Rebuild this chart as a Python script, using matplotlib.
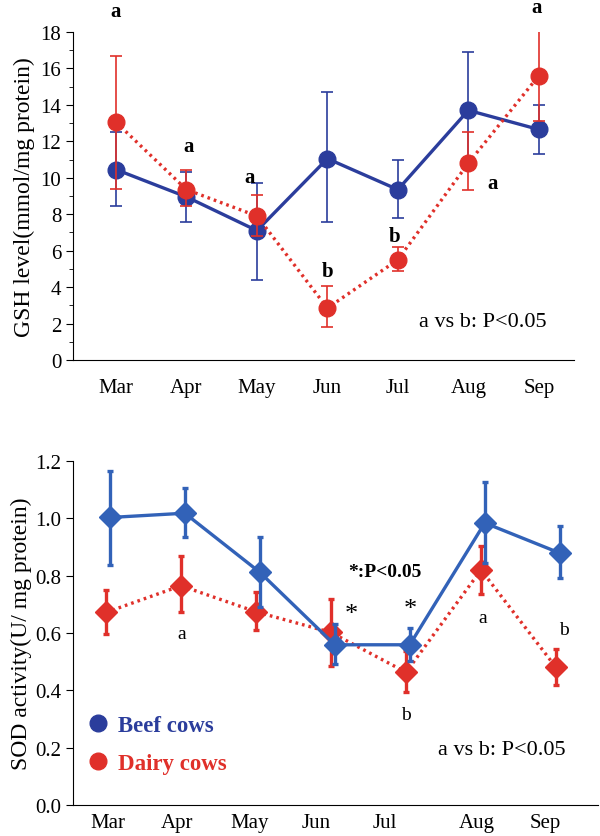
import numpy as np
import matplotlib
matplotlib.use("Agg")
import matplotlib.pyplot as plt
from matplotlib.ticker import MultipleLocator
from matplotlib.lines import Line2D

plt.rcParams['font.family'] = ['Liberation Serif', 'DejaVu Serif']

months = ["Mar", "Apr", "May", "Jun", "Jul", "Aug", "Sep"]

# GSH (top panel)
gsh_beef = [10.45, 8.95, 7.1, 11.05, 9.35, 13.7, 12.65]
gsh_beef_lo = [8.45, 7.6, 4.4, 7.55, 7.8, 10.5, 11.3]
gsh_beef_hi = [12.5, 10.3, 9.7, 14.7, 11.0, 16.9, 14.0]
gsh_dairy = [13.05, 9.35, 7.9, 2.85, 5.5, 10.8, 15.6]
gsh_dairy_lo = [9.4, 8.45, 6.8, 1.8, 4.9, 9.35, 13.1]
gsh_dairy_hi = [16.7, 10.4, 9.05, 4.05, 6.2, 12.5, 18.3]
gsh_letters = ["a", "a", "a", "b", "b", "a", "a"]
gsh_letter_x = [0.0, 0.03, -0.1, 0.0, -0.05, 0.35, -0.03]
gsh_letter_y = [19.15, 11.75, 10.05, 4.9, 6.8, 9.7, 19.35]

# SOD (bottom panel)
sod_beef = [1.003, 1.018, 0.812, 0.559, 0.559, 0.984, 0.879]
sod_beef_lo = [0.838, 0.936, 0.69, 0.492, 0.503, 0.846, 0.791]
sod_beef_hi = [1.166, 1.105, 0.934, 0.631, 0.617, 1.126, 0.972]
sod_dairy = [0.672, 0.765, 0.674, 0.602, 0.463, 0.82, 0.48]
sod_dairy_lo = [0.596, 0.672, 0.611, 0.484, 0.393, 0.736, 0.419]
sod_dairy_hi = [0.75, 0.87, 0.742, 0.719, 0.538, 0.905, 0.544]
sod_tick_x = [-0.03, 0.9, 1.87, 2.75, 3.67, 4.9, 5.8]

BLUE_TOP = "#2b3d9c"
BLUE_BOT = "#3262b8"
RED = "#e0302a"

TICK_FS = 15
LABEL_FS = 17

x = np.arange(len(months))

fig = plt.figure(figsize=(6.0, 8.37), dpi=100)

# ---------- top panel ----------
ax1 = fig.add_axes([0.1217, 0.5687, 0.835, 0.3919])
ax1.errorbar(x, gsh_beef,
             yerr=[np.subtract(gsh_beef, gsh_beef_lo), np.subtract(gsh_beef_hi, gsh_beef)],
             color=BLUE_TOP, lw=2.4, marker='o', ms=12, elinewidth=1.2, capsize=4,
             capthick=1.2, zorder=3)
ax1.errorbar(x, gsh_dairy,
             yerr=[np.subtract(gsh_dairy, gsh_dairy_lo), np.subtract(gsh_dairy_hi, gsh_dairy)],
             color=RED, lw=2.4, ls=(0, (0.8, 1.2)), marker='o', ms=12, elinewidth=1.2,
             capsize=4, capthick=1.2, zorder=4)
for i, t in enumerate(gsh_letters):
    ax1.text(x[i] + gsh_letter_x[i], gsh_letter_y[i], t, ha='center', va='center',
             fontsize=15, fontweight='bold', clip_on=False)
ax1.text(5.2, 2.1, "a vs b: P<0.05", ha='center', va='center', fontsize=16)
ax1.set_xlim(-0.61, 6.5)
ax1.set_ylim(0, 18)
ax1.yaxis.set_major_locator(MultipleLocator(2))
ax1.yaxis.set_minor_locator(MultipleLocator(1))
ax1.set_xticks(x)
ax1.set_xticklabels(months)
ax1.tick_params(axis='x', length=0, pad=13, labelsize=TICK_FS)
ax1.tick_params(axis='y', which='major', length=5, labelsize=TICK_FS)
ax1.tick_params(axis='y', which='minor', length=3)
ax1.set_ylabel("GSH level(mmol/mg protein)", fontsize=LABEL_FS, labelpad=4)
for s in ['top', 'right']:
    ax1.spines[s].set_visible(False)

# ---------- bottom panel ----------
ax2 = fig.add_axes([0.1217, 0.037, 0.875, 0.411])
ax2.errorbar(x, sod_beef,
             yerr=[np.subtract(sod_beef, sod_beef_lo), np.subtract(sod_beef_hi, sod_beef)],
             color=BLUE_BOT, lw=2.4, marker='D', ms=11, elinewidth=2.4, capsize=2.5,
             capthick=2.4, zorder=3)
ax2.errorbar(x - 0.05, sod_dairy,
             yerr=[np.subtract(sod_dairy, sod_dairy_lo), np.subtract(sod_dairy_hi, sod_dairy)],
             color=RED, lw=2.4, ls=(0, (0.8, 1.2)), marker='D', ms=11, elinewidth=2.4,
             capsize=2.5, capthick=2.4, zorder=2)
ax2.text(0.96, 0.60, "a", ha='center', va='center', fontsize=14)
ax2.text(4.97, 0.655, "a", ha='center', va='center', fontsize=14)
ax2.text(6.05, 0.614, "b", ha='center', va='center', fontsize=14)
ax2.text(3.95, 0.317, "b", ha='center', va='center', fontsize=14)
ax2.text(3.22, 0.666, "*", ha='center', va='center', fontsize=19)
ax2.text(4.01, 0.683, "*", ha='center', va='center', fontsize=19)
ax2.text(3.67, 0.816, "*:P<0.05", ha='center', va='center', fontsize=14, fontweight='bold')
ax2.text(5.23, 0.195, "a vs b: P<0.05", ha='center', va='center', fontsize=16)

handles = [Line2D([], [], ls='none', marker='o', ms=12, color=BLUE_TOP),
           Line2D([], [], ls='none', marker='o', ms=12, color=RED)]
leg = ax2.legend(handles, ["Beef cows", "Dairy cows"], loc='lower left',
                 bbox_to_anchor=(-0.01, 0.03), frameon=False, handlelength=0.8,
                 handletextpad=0.5, labelspacing=0.75,
                 prop={'size': 16.5, 'weight': 'bold'})
for txt, c in zip(leg.get_texts(), [BLUE_TOP, RED]):
    txt.set_color(c)

ax2.set_xlim(-0.49, 6.51)
ax2.set_ylim(0, 1.2)
ax2.yaxis.set_major_locator(MultipleLocator(0.2))
ax2.yaxis.set_major_formatter(matplotlib.ticker.FormatStrFormatter('%.1f'))
ax2.set_xticks(sod_tick_x)
ax2.set_xticklabels(months)
ax2.tick_params(axis='x', length=0, pad=6, labelsize=TICK_FS)
ax2.tick_params(axis='y', length=5, labelsize=TICK_FS)
ax2.set_ylabel("SOD activity(U/ mg protein)", fontsize=LABEL_FS, labelpad=2)
for s in ['top', 'right']:
    ax2.spines[s].set_visible(False)

fig.savefig("out.png", dpi=100)
